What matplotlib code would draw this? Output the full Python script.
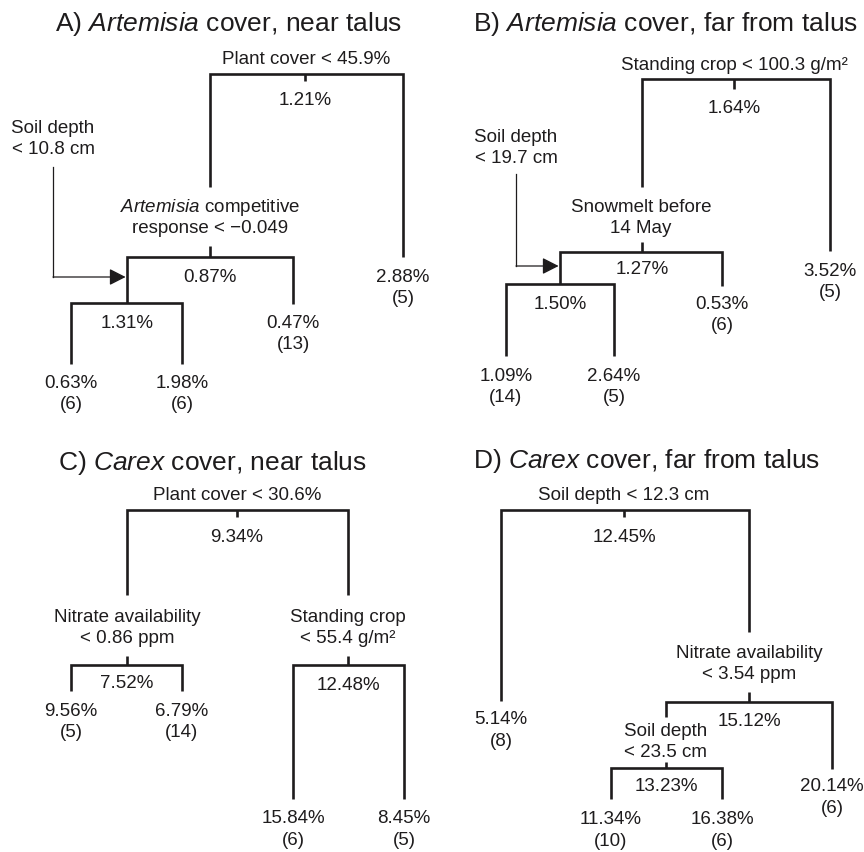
import matplotlib
matplotlib.use('Agg')
import matplotlib.pyplot as plt

plt.rcParams['font.family'] = ['Liberation Sans', 'DejaVu Sans']
plt.rcParams['mathtext.fontset'] = 'custom'
plt.rcParams['mathtext.rm'] = 'Liberation Sans'
plt.rcParams['mathtext.it'] = 'Liberation Sans:italic'

# ---------------- data ----------------
titles = ["A) $\\mathit{Artemisia}$ cover, near talus",
          "B) $\\mathit{Artemisia}$ cover, far from talus",
          "C) $\\mathit{Carex}$ cover, near talus",
          "D) $\\mathit{Carex}$ cover, far from talus"]

A_splits = ["Plant cover < 45.9%", "$\\mathit{Artemisia}$ competitive\nresponse < −0.049", "Soil depth\n< 10.8 cm"]
A_split_means = [1.21, 0.87, 1.31]
A_leaf_means = [0.63, 1.98, 0.47, 2.88]
A_leaf_n = [6, 6, 13, 5]

B_splits = ["Standing crop < 100.3 g/m²", "Snowmelt before\n14 May", "Soil depth\n< 19.7 cm"]
B_split_means = [1.64, 1.27, 1.50]
B_leaf_means = [1.09, 2.64, 0.53, 3.52]
B_leaf_n = [14, 5, 6, 5]

C_splits = ["Plant cover < 30.6%", "Nitrate availability\n< 0.86 ppm", "Standing crop\n< 55.4 g/m²"]
C_split_means = [9.34, 7.52, 12.48]
C_leaf_means = [9.56, 6.79, 15.84, 8.45]
C_leaf_n = [5, 14, 6, 5]

D_splits = ["Soil depth < 12.3 cm", "Nitrate availability\n< 3.54 ppm", "Soil depth\n< 23.5 cm"]
D_split_means = [12.45, 15.12, 13.23]
D_leaf_means = [5.14, 11.34, 16.38, 20.14]
D_leaf_n = [8, 10, 6, 6]

# ---------------- layout (pixel space) ----------------
A_layout = [
    dict(xc=305, xl=210, xr=403, y=75, yl=188, yr=258, lab=(306, 59), tick=(75, 82), my=100, arrow=None),
    dict(xc=210, xl=127, xr=293, y=258, yl=304, yr=305, lab=(210, 207), tick=(247, 258), my=277, arrow=None),
    dict(xc=127, xl=71, xr=182, y=304, yl=365, yr=365, lab=(53, 128), tick=None, my=323,
         arrow=[(53, 168), (53, 278), (127, 278)]),
]
A_leaves = [(71, 383), (182, 383), (293, 323), (403, 277)]

B_layout = [
    dict(xc=734, xl=642, xr=830, y=80, yl=188, yr=252, lab=(734, 65), tick=(80, 90), my=108, arrow=None),
    dict(xc=642, xl=560, xr=722, y=253, yl=285, yr=287, lab=(641, 207), tick=(243, 253), my=269, arrow=None),
    dict(xc=560, xl=506, xr=614, y=285, yl=357, yr=357, lab=(516, 137), tick=None, my=304,
         arrow=[(516, 175), (516, 267), (560, 267)]),
]
B_leaves = [(506, 376), (614, 376), (722, 304), (830, 271)]

C_layout = [
    dict(xc=237, xl=127, xr=348, y=511, yl=596, yr=596, lab=(237, 496), tick=(511, 518), my=537, arrow=None),
    dict(xc=127, xl=71, xr=182, y=666, yl=692, yr=692, lab=(127, 617), tick=(657, 666), my=683, arrow=None),
    dict(xc=348, xl=293, xr=404, y=666, yl=800, yr=800, lab=(348, 617), tick=(657, 666), my=685, arrow=None),
]
C_leaves = [(71, 711), (182, 711), (293, 819), (404, 819)]

D_layout = [
    dict(xc=624, xl=501, xr=749, y=511, yl=702, yr=633, lab=(624, 496), tick=(511, 518), my=537, arrow=None),
    dict(xc=749, xl=666, xr=832, y=703, yl=718, yr=770, lab=(749, 653), tick=(693, 703), my=722, arrow=None),
    dict(xc=666, xl=611, xr=722, y=769, yl=800, yr=800, lab=(666, 731), tick=(763, 769), my=787, arrow=None),
]
D_leaves = [(501, 720), (611, 820), (722, 820), (832, 787)]

title_pos = [(228, 24), (666, 24), (212, 463), (646, 461)]

# ---------------- drawing ----------------
INK = '#1e1c1d'
LW = 1.9
FS = 13.5
TFS = 19
LINE = 21.5

fig = plt.figure(figsize=(8.64, 8.53), dpi=100)
ax = fig.add_axes([0, 0, 1, 1])
ax.set_xlim(0, 864)
ax.set_ylim(853, 0)
ax.axis('off')


def txt(x, y, s, size=FS):
    for i, line in enumerate(s.split('\n')):
        ax.text(x, y + i * LINE, line, ha='center', va='center', fontsize=size, color=INK)


def draw_panel(splits, split_means, leaf_means, leaf_n, layout, leaves):
    for label, mean, L in zip(splits, split_means, layout):
        ax.plot([L['xl'], L['xl'], L['xr'], L['xr']], [L['yl'], L['y'], L['y'], L['yr']],
                color=INK, lw=LW, solid_joinstyle='miter', solid_capstyle='butt')
        if L['tick'] is not None:
            ax.plot([L['xc'], L['xc']], list(L['tick']), color=INK, lw=LW, solid_capstyle='butt')
        txt(L['lab'][0], L['lab'][1], label)
        txt(L['xc'], L['my'], f"{mean:.2f}%")
        if L['arrow'] is not None:
            p = L['arrow']
            ax.plot([p[0][0], p[1][0]], [p[0][1], p[1][1]], color=INK, lw=0.9)
            ax.annotate('', xy=p[2], xytext=p[1],
                        arrowprops=dict(arrowstyle='-|>,head_length=0.55,head_width=0.28', color=INK, lw=0.9,
                                        mutation_scale=18, shrinkA=0, shrinkB=1))
    for m, n, (x, y) in zip(leaf_means, leaf_n, leaves):
        txt(x, y, f"{m:.2f}%\n({n})")


draw_panel(A_splits, A_split_means, A_leaf_means, A_leaf_n, A_layout, A_leaves)
draw_panel(B_splits, B_split_means, B_leaf_means, B_leaf_n, B_layout, B_leaves)
draw_panel(C_splits, C_split_means, C_leaf_means, C_leaf_n, C_layout, C_leaves)
draw_panel(D_splits, D_split_means, D_leaf_means, D_leaf_n, D_layout, D_leaves)

for t, (x, y) in zip(titles, title_pos):
    ax.text(x, y, t, ha='center', va='center', fontsize=TFS, color=INK)

fig.savefig('out.png', dpi=100)
